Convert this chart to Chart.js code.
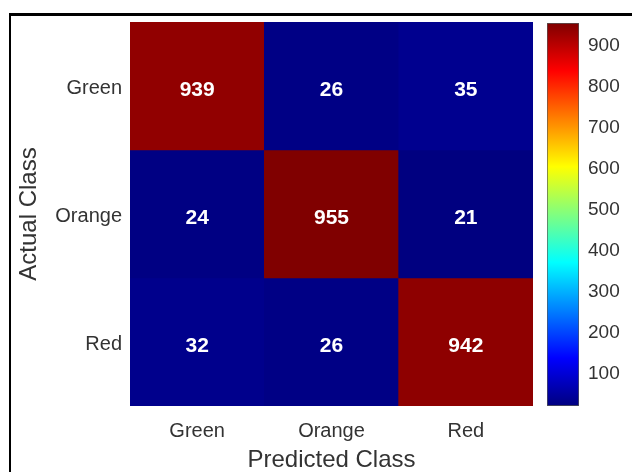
<!DOCTYPE html>
<html>
<head>
<meta charset="utf-8">
<script src="https://cdn.jsdelivr.net/npm/chart.js@4.4.1/dist/chart.umd.min.js"></script>
<style>
    body { margin: 0; background: #fff; }
    #frame { position: absolute; left: 9px; top: 13px; width: 640px; height: 480px;
             border-top: 3px solid #000; border-left: 2px solid #000; }
    #main { position: absolute; left: 0; top: 0; }
    #bar { position: absolute; left: 540px; top: 0; }
</style>
</head>
<body>
<div id="frame"></div>
<canvas id="main" width="632" height="472"></canvas>
<canvas id="bar" width="92" height="472"></canvas>
<script>
// Матрица ошибок: классы и значения
const predictedClasses = ['Green', 'Orange', 'Red'];
const actualClasses = ['Green', 'Orange', 'Red'];
const rowGreen = [939, 26, 35];
const rowOrange = [24, 955, 21];
const rowRed = [32, 26, 942];
const colorbarTicks = [100, 200, 300, 400, 500, 600, 700, 800, 900];

const rows = [rowGreen, rowOrange, rowRed];
const allValues = rows.flat();
const cMin = Math.min(...allValues);
const cMax = Math.max(...allValues);

const FONT = "'Liberation Sans', Arial, sans-serif";
const TEXT = '#333333';

// jet colormap
function clamp(v) { return Math.max(0, Math.min(1, v)); }
function jet(t) {
    const r = clamp(1.5 - Math.abs(4 * t - 3));
    const g = clamp(1.5 - Math.abs(4 * t - 2));
    const b = clamp(1.5 - Math.abs(4 * t - 1));
    return `rgb(${Math.round(r * 255)}, ${Math.round(g * 255)}, ${Math.round(b * 255)})`;
}
function colorFor(v) { return jet((v - cMin) / (cMax - cMin)); }

// Каждая строка — отдельный набор плавающих столбцов
const datasets = rows.map((row, i) => {
    const lo = rows.length - 1 - i;
    return {
        label: actualClasses[i],
        data: row.map(() => [lo, lo + 1]),
        counts: row,
        backgroundColor: row.map(colorFor),
        borderWidth: 0,
        barPercentage: 1,
        categoryPercentage: 1,
        grouped: false
    };
});

// Подписи чисел в ячейках
const cellLabels = {
    id: 'cellLabels',
    afterDatasetsDraw(chart) {
        const c = chart.ctx;
        c.save();
        c.font = `bold 21px ${FONT}`;
        c.fillStyle = '#ffffff';
        c.textAlign = 'center';
        c.textBaseline = 'middle';
        chart.data.datasets.forEach((ds, di) => {
            chart.getDatasetMeta(di).data.forEach((el, j) => {
                const p = el.getProps(['x', 'y', 'base'], true);
                c.fillText(String(ds.counts[j]), p.x, (p.y + p.base) / 2 + 4);
            });
        });
        c.restore();
    }
};

new Chart(document.getElementById('main').getContext('2d'), {
    type: 'bar',
    data: { labels: predictedClasses, datasets: datasets },
    options: {
        responsive: false,
        animation: false,
        layout: { padding: { top: 22, right: 99, left: 0, bottom: 0 } },
        plugins: { legend: { display: false }, tooltip: { enabled: false } },
        scales: {
            x: {
                grid: { display: false, drawTicks: false },
                border: { display: false },
                ticks: { color: TEXT, font: { family: FONT, size: 20 }, padding: 13 },
                title: { display: true, text: 'Predicted Class', color: TEXT,
                         font: { family: FONT, size: 24, lineHeight: 1 }, padding: { top: 0, bottom: 0 } },
                afterFit(scale) { scale.height = 66; }
            },
            y: {
                min: 0,
                max: 3,
                grid: { display: false, drawTicks: false },
                border: { display: false },
                // подписи строк чуть ниже центра, как в оригинале
                afterBuildTicks(scale) { scale.ticks = [0.5, 1.5, 2.5].map(v => ({ value: v - 0.016 })); },
                ticks: {
                    color: TEXT, font: { family: FONT, size: 20 }, padding: 8,
                    callback: (v) => actualClasses[actualClasses.length - 1 - Math.floor(v)]
                },
                title: { display: true, text: 'Actual Class', color: TEXT,
                         font: { family: FONT, size: 24, lineHeight: 1 }, padding: { top: 17, bottom: 0 } },
                afterFit(scale) { scale.width = 130; }
            }
        }
    },
    plugins: [cellLabels]
});

// Цветовая шкала
new Chart(document.getElementById('bar').getContext('2d'), {
    type: 'bar',
    data: {
        labels: [''],
        datasets: [{
            data: [[cMin, cMax]],
            backgroundColor(ctx) {
                const area = ctx.chart.chartArea;
                if (!area) return jet(0);
                const g = ctx.chart.ctx.createLinearGradient(0, area.bottom, 0, area.top);
                for (let i = 0; i <= 64; i++) g.addColorStop(i / 64, jet(i / 64));
                return g;
            },
            borderColor: '#555555',
            borderWidth: 1,
            borderSkipped: false,
            barPercentage: 1,
            categoryPercentage: 1
        }]
    },
    options: {
        responsive: false,
        animation: false,
        layout: { padding: { top: 23, bottom: 66, left: 7, right: 0 } },
        plugins: { legend: { display: false }, tooltip: { enabled: false } },
        scales: {
            x: { display: false },
            y: {
                position: 'right',
                min: cMin,
                max: cMax,
                grid: { display: false, drawTicks: false },
                border: { display: false },
                afterBuildTicks(scale) { scale.ticks = colorbarTicks.map(v => ({ value: v })); },
                ticks: { color: TEXT, font: { family: FONT, size: 19 }, padding: 9 },
                afterFit(scale) { scale.width = 53; }
            }
        }
    }
});
</script>
</body>
</html>
